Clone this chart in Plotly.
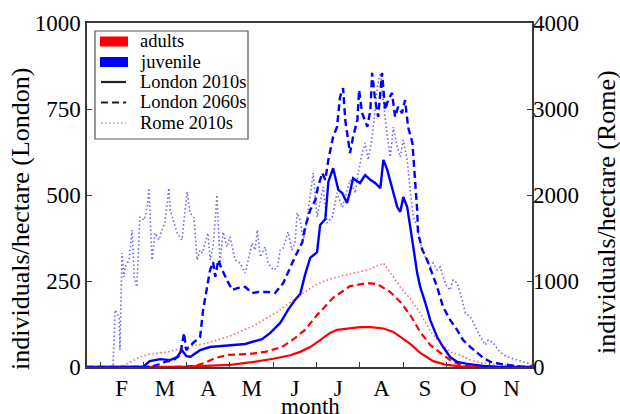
import plotly.graph_objects as go

# x values are months (1 = start of February, 2 = start of March, ...)
month_labels = ["F", "M", "A", "M", "J", "J", "A", "S", "O", "N"]
month_label_pos = [1.5, 2.5, 3.5, 4.5, 5.5, 6.5, 7.5, 8.5, 9.5, 10.5]
month_bounds = [1, 2, 3, 4, 5, 6, 7, 8, 9, 10]

left_ticks = [0, 250, 500, 750, 1000]
right_ticks = [0, 1000, 2000, 3000, 4000]

legend_names = ["adults", "juvenile", "London 2010s", "London 2060s", "Rome 2010s"]

# adults, London 2010s (individuals/hectare, left axis)
adult_lon10_x = [0.70, 2.62, 3.01, 4.00, 4.51, 5.00, 5.39, 5.62, 5.85, 6.08, 6.31, 6.47, 6.77,
                 7.00, 7.24, 7.54, 7.77, 7.93, 8.16, 8.39, 8.69, 8.97, 9.31, 9.78, 10.98]
adult_lon10_y = [0, 0, 1, 6, 14, 24, 34, 44, 58, 78, 99, 108, 113,
                 116, 116, 112, 102, 87, 67, 41, 17, 7, 2, 0, 0]

# adults, London 2060s (left axis)
adult_lon60_x = [0.70, 2.62, 3.19, 3.42, 3.66, 3.96, 4.46, 4.81, 5.20, 5.50, 5.73, 6.01, 6.38,
                 6.77, 7.17, 7.40, 7.70, 7.93, 8.16, 8.39, 8.62, 8.85, 9.08, 9.31, 9.55, 10.01, 10.98]
adult_lon60_y = [0, 0, 3, 12, 26, 35, 38, 44, 58, 84, 108, 151, 201,
                 235, 244, 241, 218, 189, 151, 102, 64, 41, 20, 6, 1.5, 0, 0]

# adults, Rome 2010s (right axis)
adult_rome_x = [0.70, 1.35, 1.53, 1.74, 1.92, 2.15, 2.55, 3.01, 3.47, 4.00, 4.53, 5.09, 5.46,
                5.62, 6.01, 6.38, 6.77, 7.17, 7.35, 7.54, 7.74, 7.93, 8.16, 8.39, 8.62, 8.85,
                9.08, 9.31, 9.55, 9.78, 10.24, 10.93]
adult_rome_y = [0, 0, 12, 70, 116, 151, 174, 233, 279, 360, 477, 640, 779,
                837, 965, 1035, 1081, 1128, 1163, 1209, 1070, 930, 791, 628, 419, 279,
                174, 140, 81, 47, 23, 6]

# juvenile, London 2010s (left axis)
juv_lon10_x = [0.70, 1.99, 2.15, 2.39, 2.62, 2.78, 2.89, 2.99, 3.08, 3.31, 3.54, 3.93, 4.35,
               4.74, 4.93, 5.16, 5.34, 5.50, 5.62, 5.73, 5.85, 6.01, 6.08, 6.20, 6.27, 6.38,
               6.50, 6.59, 6.70, 6.77, 6.84, 7.00, 7.12, 7.24, 7.35, 7.47, 7.54, 7.63, 7.74,
               7.86, 7.93, 8.00, 8.09, 8.16, 8.23, 8.32, 8.39, 8.51, 8.62, 8.78, 8.92, 9.08,
               9.24, 9.48, 9.85, 10.24, 10.98]
juv_lon10_y = [0, 0, 17, 23, 20, 29, 49, 32, 29, 49, 58, 62, 67,
               81, 99, 128, 166, 195, 212, 267, 317, 334, 413, 430, 538, 578,
               515, 506, 477, 509, 549, 535, 558, 544, 535, 520, 602, 573, 520,
               465, 451, 494, 465, 413, 349, 273, 233, 186, 137, 87, 58, 29,
               15, 9, 3, 0, 0]

# juvenile, London 2060s (left axis)
juv_lon60_x = [0.70, 2.15, 2.32, 2.50, 2.69, 2.85, 2.94, 2.99, 3.15, 3.31, 3.38, 3.47, 3.54,
               3.61, 3.66, 3.73, 3.82, 3.93, 4.05, 4.19, 4.35, 4.51, 4.65, 4.86, 5.04, 5.23,
               5.39, 5.50, 5.67, 5.73, 5.85, 5.97, 6.03, 6.13, 6.20, 6.27, 6.38, 6.47, 6.54,
               6.61, 6.66, 6.77, 6.84, 6.94, 6.98, 7.05, 7.17, 7.24, 7.28, 7.35, 7.42, 7.51,
               7.58, 7.65, 7.74, 7.81, 7.88, 7.97, 8.04, 8.11, 8.21, 8.27, 8.32, 8.34, 8.44,
               8.55, 8.67, 8.78, 8.92, 9.08, 9.24, 9.38, 9.55, 9.71, 9.85, 10.01, 10.24,
               10.70, 10.98]
juv_lon60_y = [0, 0, 6, 15, 20, 35, 99, 49, 70, 87, 166, 233, 282,
               305, 262, 311, 282, 253, 224, 230, 233, 215, 218, 218, 215, 244,
               291, 320, 363, 404, 456, 485, 523, 564, 544, 602, 669, 698, 785,
               811, 718, 622, 669, 718, 805, 738, 698, 747, 855, 776, 727, 855,
               747, 776, 797, 727, 756, 738, 776, 698, 651, 552, 456, 390, 340,
               311, 273, 233, 174, 137, 108, 78, 58, 41, 26, 15, 9,
               1.5, 0]

# juvenile, Rome 2010s (right axis)
juv_rome_x = [0.70, 1.30, 1.35, 1.44, 1.46, 1.51, 1.55, 1.58, 1.67, 1.74, 1.79, 1.85, 1.92,
              2.02, 2.09, 2.13, 2.20, 2.27, 2.36, 2.43, 2.50, 2.59, 2.62, 2.71, 2.78, 2.89,
              3.01, 3.08, 3.17, 3.24, 3.31, 3.36, 3.49, 3.54, 3.61, 3.70, 3.77, 3.84, 3.93,
              4.00, 4.12, 4.23, 4.35, 4.42, 4.51, 4.58, 4.63, 4.70, 4.81, 4.88, 5.00, 5.09,
              5.16, 5.23, 5.34, 5.43, 5.50, 5.55, 5.62, 5.69, 5.73, 5.80, 5.92, 6.01, 6.08,
              6.15, 6.24, 6.36, 6.47, 6.59, 6.66, 6.77, 6.89, 6.96, 7.05, 7.12, 7.19, 7.28,
              7.35, 7.40, 7.47, 7.54, 7.63, 7.70, 7.77, 7.86, 7.93, 8.00, 8.09, 8.16, 8.23,
              8.32, 8.39, 8.51, 8.62, 8.69, 8.78, 8.85, 8.92, 9.01, 9.08, 9.15, 9.24, 9.36,
              9.43, 9.55, 9.66, 9.78, 9.89, 9.96, 10.08, 10.19, 10.31, 10.47, 10.63, 10.77,
              10.93, 10.98]
juv_rome_y = [0, 0, 663, 581, 198, 1326, 1047, 1163, 1244, 1593, 1047, 930, 1744,
              1709, 1860, 2081, 1244, 1558, 1477, 1593, 1674, 2081, 1826, 1674, 1558, 1477,
              2035, 1791, 1733, 1244, 1360, 1326, 1558, 1244, 1395, 2000, 1209, 1570, 1395,
              1512, 1244, 1209, 1093, 1244, 1442, 1360, 1593, 1279, 1395, 1209, 1128, 1151,
              1360, 1384, 1570, 1360, 1442, 1791, 1709, 1477, 1558, 1791, 2256, 1744, 1942,
              2093, 1674, 1744, 2023, 1860, 1977, 2174, 2023, 2256, 2488, 2605, 2407, 2674,
              2988, 3256, 3419, 3070, 2674, 2442, 2791, 2558, 2442, 2640, 2407, 2058, 1744,
              1628, 1442, 1279, 1163, 1209, 1128, 1163, 1047, 930, 895, 1012, 977, 779,
              628, 581, 465, 349, 256, 314, 279, 198, 140, 105, 81, 58,
              35, 12]

RED = "#ff0000"
BLUE = "#0000ff"
FONT = "Liberation Serif"
AXC = "#3a3a3a"
DASH = "7px,4px"
DOT = "1.5px,2.5px"

fig = go.Figure()

fig.add_trace(go.Scatter(x=adult_lon10_x, y=adult_lon10_y, mode="lines", showlegend=False,
                         line=dict(color=RED, width=2.2), yaxis="y"))
fig.add_trace(go.Scatter(x=adult_lon60_x, y=adult_lon60_y, mode="lines", showlegend=False,
                         line=dict(color=RED, width=2.2, dash=DASH), yaxis="y"))
fig.add_trace(go.Scatter(x=juv_lon60_x, y=juv_lon60_y, mode="lines", showlegend=False,
                         line=dict(color=BLUE, width=2.4, dash=DASH), yaxis="y"))
fig.add_trace(go.Scatter(x=juv_lon10_x, y=juv_lon10_y, mode="lines", showlegend=False,
                         line=dict(color=BLUE, width=2.4), yaxis="y"))
fig.add_trace(go.Scatter(x=adult_rome_x, y=adult_rome_y, mode="lines", showlegend=False,
                         line=dict(color="rgba(255,0,0,0.6)", width=1.6, dash=DOT),
                         yaxis="y2"))
fig.add_trace(go.Scatter(x=juv_rome_x, y=juv_rome_y, mode="lines", showlegend=False,
                         line=dict(color="rgba(0,0,255,0.6)", width=1.6, dash=DOT),
                         yaxis="y2"))

# ---- legend drawn as a box with samples (paper coordinates) ----
def px_x(p):
    return (p - 87) / 445.0

def px_y(p):
    return (367 - p) / 344.0

shapes = []
shapes.append(dict(type="rect", xref="paper", yref="paper", layer="above",
                   x0=px_x(95), x1=px_x(248), y0=px_y(139), y1=px_y(31),
                   line=dict(color="#555555", width=1.2), fillcolor="white"))
row_y = [41.5, 62, 82, 102.5, 123]
sample_styles = [
    dict(kind="rect", color=RED),
    dict(kind="rect", color=BLUE),
    dict(kind="line", color="#222222", width=2.2, dash="solid"),
    dict(kind="line", color="#222222", width=2.2, dash=DASH),
    dict(kind="line", color="rgba(80,80,160,0.6)", width=1.6, dash=DOT),
]
annotations = []
for name, ry, st in zip(legend_names, row_y, sample_styles):
    if st["kind"] == "rect":
        shapes.append(dict(type="rect", xref="paper", yref="paper", layer="above",
                           x0=px_x(100), x1=px_x(128), y0=px_y(ry + 5), y1=px_y(ry - 5),
                           line=dict(width=0), fillcolor=st["color"]))
    else:
        shapes.append(dict(type="line", xref="paper", yref="paper", layer="above",
                           x0=px_x(101), x1=px_x(126), y0=px_y(ry), y1=px_y(ry),
                           line=dict(color=st["color"], width=st["width"], dash=st["dash"])))
    annotations.append(dict(text=name, xref="paper", yref="paper", x=px_x(138), y=px_y(ry),
                            xanchor="left", yanchor="middle", showarrow=False,
                            font=dict(family=FONT, size=18.5, color="black")))

annotations += [
    dict(text="individuals/hectare (London)", xref="paper", yref="paper",
         x=px_x(20), y=px_y(219), textangle=-90, showarrow=False,
         xanchor="center", yanchor="middle", font=dict(family=FONT, size=26, color="black")),
    dict(text="individuals/hectare (Rome)", xref="paper", yref="paper",
         x=px_x(606), y=px_y(212), textangle=-90, showarrow=False,
         xanchor="center", yanchor="middle", font=dict(family=FONT, size=26, color="black")),
    dict(text="month", xref="paper", yref="paper", x=px_x(310), y=px_y(392),
         showarrow=False, xanchor="center", yanchor="top",
         font=dict(family=FONT, size=23, color="black")),
]

fig.update_layout(
    width=620, height=414,
    margin=dict(l=87, r=88, t=23, b=47),
    paper_bgcolor="white", plot_bgcolor="white",
    font=dict(family=FONT, size=23, color="black"),
    showlegend=False,
    xaxis=dict(range=[0.7, 10.97], tickmode="array", tickvals=month_label_pos,
               ticktext=month_labels, ticks="", showgrid=False, zeroline=False,
               showline=True, linecolor=AXC, linewidth=1.5, mirror=True,
               minor=dict(tickmode="array", tickvals=month_bounds, ticks="inside",
                          ticklen=5, tickcolor=AXC, tickwidth=1, showgrid=False),
               tickfont=dict(family=FONT, size=23, color="black")),
    yaxis=dict(range=[0, 1000], tickmode="array", tickvals=left_ticks,
               ticks="inside", ticklen=5, tickcolor=AXC, showgrid=False, zeroline=False,
               showline=True, linecolor=AXC, linewidth=1.5, mirror=True,
               tickfont=dict(family=FONT, size=23, color="black")),
    yaxis2=dict(range=[0, 4000], overlaying="y", side="right", tickmode="array",
                tickvals=right_ticks, ticks="inside", ticklen=5, tickcolor=AXC,
                showgrid=False, zeroline=False, showline=False,
                tickfont=dict(family=FONT, size=23, color="black")),
    shapes=shapes,
    annotations=annotations,
)

fig.write_html("out.html")
